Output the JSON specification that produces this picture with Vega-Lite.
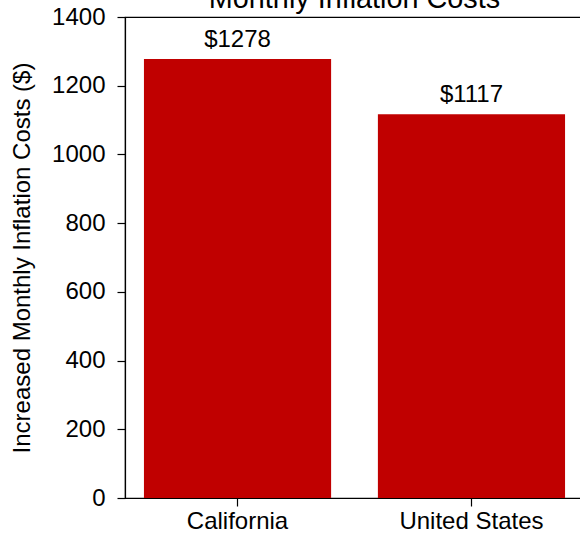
{
  "$schema": "https://vega.github.io/schema/vega-lite/v6.json",
  "autosize": "none",
  "padding": {"left": 125, "top": 17, "right": 0, "bottom": 38},
  "width": 459,
  "height": 481,
  "background": "white",
  "title": {
    "text": "Monthly Inflation Costs",
    "fontSize": 28.8,
    "font": "Liberation Sans",
    "fontWeight": "normal",
    "color": "black",
    "anchor": "middle",
    "frame": "group",
    "baseline": "alphabetic",
    "offset": -32
  },
  "config": {
    "font": "Liberation Sans",
    "view": {"stroke": "black", "strokeWidth": 1.2},
    "axis": {
      "grid": false,
      "domainColor": "black",
      "domainWidth": 1.2,
      "tickColor": "black",
      "tickWidth": 1.2,
      "tickSize": 8,
      "labelColor": "black",
      "titleColor": "black",
      "labelFont": "Liberation Sans",
      "titleFont": "Liberation Sans",
      "labelFontSize": 24,
      "titleFontSize": 24,
      "titleFontWeight": "normal"
    }
  },
  "data": {
    "values": [
      {"region": "California", "cost": 1278},
      {"region": "United States", "cost": 1117}
    ]
  },
  "encoding": {
    "x": {
      "field": "region",
      "type": "nominal",
      "sort": null,
      "scale": {"paddingInner": 0.2, "paddingOuter": 0.081},
      "axis": {"title": null, "labelAngle": 0, "labelPadding": 3}
    },
    "y": {
      "field": "cost",
      "type": "quantitative",
      "scale": {"domain": [0, 1400], "nice": false},
      "axis": {
        "title": "Increased Monthly Inflation Costs ($)",
        "format": "d",
        "values": [0, 200, 400, 600, 800, 1000, 1200, 1400],
        "labelPadding": 12,
        "titlePadding": 17
      }
    }
  },
  "layer": [
    {"mark": {"type": "bar", "color": "#c00000"}},
    {
      "mark": {"type": "text", "baseline": "alphabetic", "dy": -12, "fontSize": 24, "color": "black", "font": "Liberation Sans"},
      "encoding": {"text": {"field": "cost", "type": "quantitative", "format": "$d"}}
    }
  ]
}
